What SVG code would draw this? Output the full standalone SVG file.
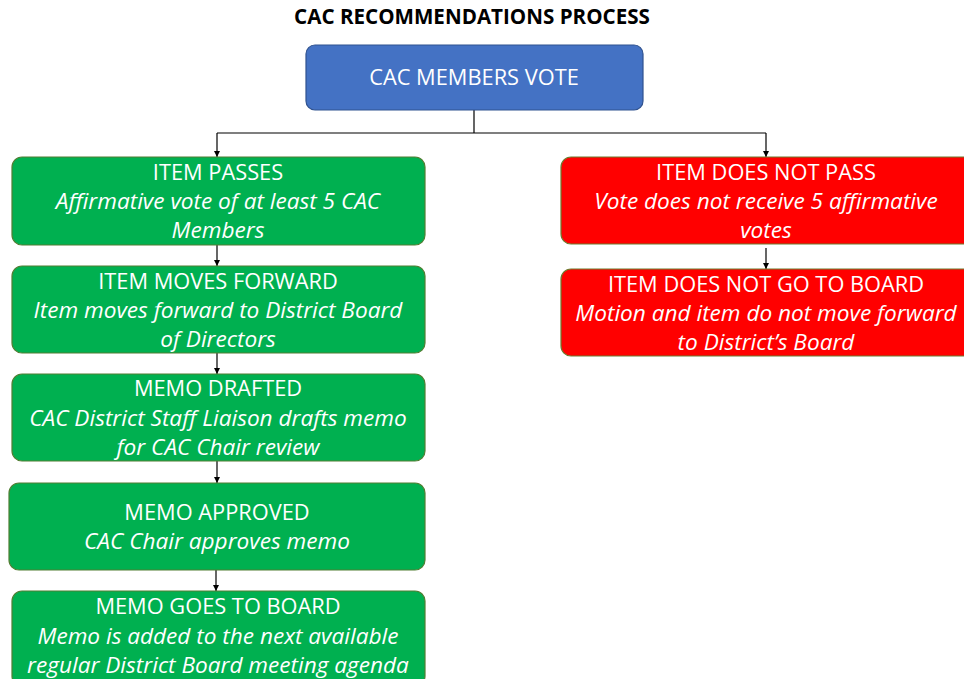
<svg xmlns="http://www.w3.org/2000/svg" width="964" height="679" viewBox="0 0 964 679">
<style>
.t{font-family:"Open Sans","Liberation Sans",sans-serif;fill:#fff;text-anchor:middle;font-size:21.8px}
.i{font-style:italic;font-size:22.6px}
.g{fill:#00B050;stroke:#507E32;stroke-width:1.2}
.r{fill:#FF0000;stroke:#6E7A2E;stroke-width:1.2}
.c{fill:none;stroke:#000;stroke-width:1.2}
</style>
<defs>
<marker id="ah" viewBox="0 0 10 10" refX="10" refY="5" markerWidth="6" markerHeight="6" orient="auto" markerUnits="userSpaceOnUse"><path d="M0,0 L10,5 L0,10 z" fill="#000"/></marker>
</defs>
<rect width="964" height="679" fill="#fff"/>
<text x="472" y="24" font-family="'Open Sans','Liberation Sans',sans-serif" font-weight="bold" font-size="20.6" text-anchor="middle" fill="#000">CAC RECOMMENDATIONS PROCESS</text>
<g id="connectors">
<path class="c" d="M474,110 V133 M217,133 H766"/>
<path class="c" d="M217,133 V157" marker-end="url(#ah)"/>
<path class="c" d="M766,133 V157" marker-end="url(#ah)"/>
<path class="c" d="M217,245 V266" marker-end="url(#ah)"/>
<path class="c" d="M217,353 V374" marker-end="url(#ah)"/>
<path class="c" d="M217,461 V483" marker-end="url(#ah)"/>
<path class="c" d="M216,570 V591" marker-end="url(#ah)"/>
<path class="c" d="M766,248 V269" marker-end="url(#ah)"/>
</g>
<g id="vote">
<rect x="306" y="45" width="337" height="65" rx="9" fill="#4472C4" stroke="#2F528F" stroke-width="1.2"/>
<text class="t" x="474" y="85">CAC MEMBERS VOTE</text>
</g>
<g id="passes">
<rect class="g" x="12" y="157" width="413" height="88" rx="10"/>
<text class="t" x="218" y="180">ITEM PASSES</text>
<text class="t i" x="218" y="209">Affirmative vote of at least 5 CAC</text>
<text class="t i" x="218" y="238">Members</text>
</g>
<g id="moves">
<rect class="g" x="12" y="266" width="413" height="87" rx="10"/>
<text class="t" x="218" y="289">ITEM MOVES FORWARD</text>
<text class="t i" x="218" y="318">Item moves forward to District Board</text>
<text class="t i" x="218" y="347">of Directors</text>
</g>
<g id="drafted">
<rect class="g" x="12" y="374" width="413" height="87" rx="10"/>
<text class="t" x="218" y="396">MEMO DRAFTED</text>
<text class="t i" x="218" y="426">CAC District Staff Liaison drafts memo</text>
<text class="t i" x="218" y="455">for CAC Chair review</text>
</g>
<g id="approved">
<rect class="g" x="9" y="483" width="416" height="87" rx="10"/>
<text class="t" x="217" y="520">MEMO APPROVED</text>
<text class="t i" x="217" y="549">CAC Chair approves memo</text>
</g>
<g id="goes">
<rect class="g" x="12" y="591" width="413" height="95" rx="10"/>
<text class="t" x="218" y="614">MEMO GOES TO BOARD</text>
<text class="t i" x="218" y="644">Memo is added to the next available</text>
<text class="t i" x="218" y="673">regular District Board meeting agenda</text>
</g>
<g id="notpass">
<rect class="r" x="561" y="157" width="415" height="87" rx="10"/>
<text class="t" x="766" y="180">ITEM DOES NOT PASS</text>
<text class="t i" x="766" y="209">Vote does not receive 5 affirmative</text>
<text class="t i" x="766" y="238">votes</text>
</g>
<g id="notboard">
<rect class="r" x="561" y="269" width="415" height="87" rx="10"/>
<text class="t" x="766" y="292">ITEM DOES NOT GO TO BOARD</text>
<text class="t i" x="766" y="321">Motion and item do not move forward</text>
<text class="t i" x="766" y="350">to District’s Board</text>
</g>
</svg>
